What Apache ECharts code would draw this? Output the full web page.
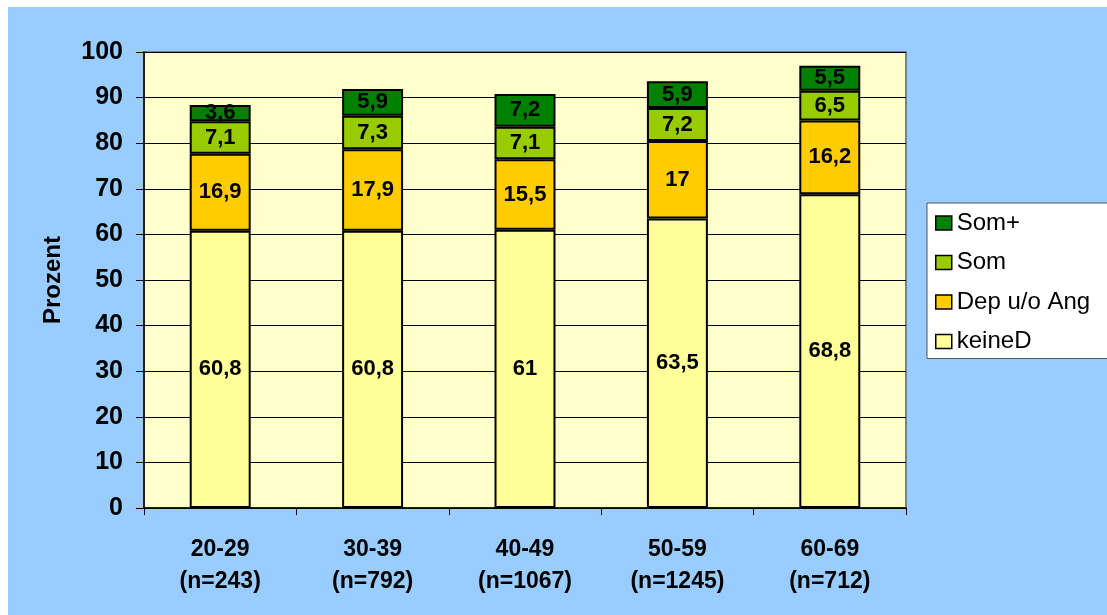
<!DOCTYPE html>
<html><head><meta charset="utf-8">
<script src="https://cdn.jsdelivr.net/npm/echarts@6/dist/echarts.min.js"></script>
<style>html,body{margin:0;padding:0;background:#fff}#c{width:1107px;height:615px}</style>
</head><body><div id="c"></div>
<script>
const categories = ['20-29\n(n=243)', '30-39\n(n=792)', '40-49\n(n=1067)', '50-59\n(n=1245)', '60-69\n(n=712)'];
const keineD = [60.8, 60.8, 61, 63.5, 68.8];
const depAng = [16.9, 17.9, 15.5, 17, 16.2];
const som = [7.1, 7.3, 7.1, 7.2, 6.5];
const somPlus = [3.6, 5.9, 7.2, 5.9, 5.5];
const yTicks = [0, 10, 20, 30, 40, 50, 60, 70, 80, 90, 100];

const FONT = 'Arial, "Liberation Sans", sans-serif';
const fmt = p => String(p.value).replace('.', ',');
function ser(name, data, color) {
  return {
    name, type: 'bar', stack: 'a', data, barWidth: '40%',
    itemStyle: { color, borderColor: '#000', borderWidth: 2 },
    label: { show: true, position: 'inside', formatter: fmt, color: '#000', fontFamily: FONT, fontWeight: 'bold', fontSize: 22 }
  };
}
const chart = echarts.init(document.getElementById('c'));
chart.setOption({
  backgroundColor: '#fff',
  animation: false,
  graphic: [{ type: 'rect', z: -10, silent: true, shape: { x: 8, y: 7, width: 1110, height: 620 }, style: { fill: '#99CCFF' } }],
  grid: { left: 144, top: 52, right: 201, bottom: 107, show: true, backgroundColor: '#FFFFCC', borderColor: '#808080', borderWidth: 2 },
  legend: {
    orient: 'vertical', left: 927, top: 203,
    data: ['Som+', 'Som', 'Dep u/o Ang', 'keineD'],
    backgroundColor: '#fff', borderColor: '#555', borderWidth: 1,
    padding: [8, 40, 5, 8], itemGap: 15.5, itemWidth: 16, itemHeight: 14, icon: 'rect',
    itemStyle: { borderColor: '#000', borderWidth: 1.5 },
    textStyle: { fontFamily: FONT, fontSize: 24, color: '#000', lineHeight: 24 }
  },
  xAxis: {
    type: 'category', data: categories,
    axisLine: { lineStyle: { color: '#000', width: 1.5 } },
    axisTick: { show: true, length: 7, lineStyle: { color: '#000' } },
    axisLabel: { margin: 26, fontFamily: FONT, fontWeight: 'bold', fontSize: 23, color: '#000', lineHeight: 32 }
  },
  yAxis: {
    type: 'value', min: 0, max: 100, interval: 10,
    name: 'Prozent', nameLocation: 'middle', nameGap: 79, nameRotate: 90,
    nameTextStyle: { fontFamily: FONT, fontWeight: 'bold', fontSize: 24, color: '#000' },
    axisLine: { show: true, lineStyle: { color: '#000', width: 1.5 } },
    axisTick: { show: true, length: 8, lineStyle: { color: '#000' } },
    splitLine: { lineStyle: { color: '#000', width: 1 } },
    axisLabel: { margin: 21, fontFamily: FONT, fontWeight: 'bold', fontSize: 25, color: '#000',
      formatter: v => yTicks.includes(v) ? String(v) : '' }
  },
  series: [
    ser('keineD', keineD, '#FFFF99'),
    ser('Dep u/o Ang', depAng, '#FFCC00'),
    ser('Som', som, '#99CC00'),
    ser('Som+', somPlus, '#008000')
  ]
});
</script></body></html>
